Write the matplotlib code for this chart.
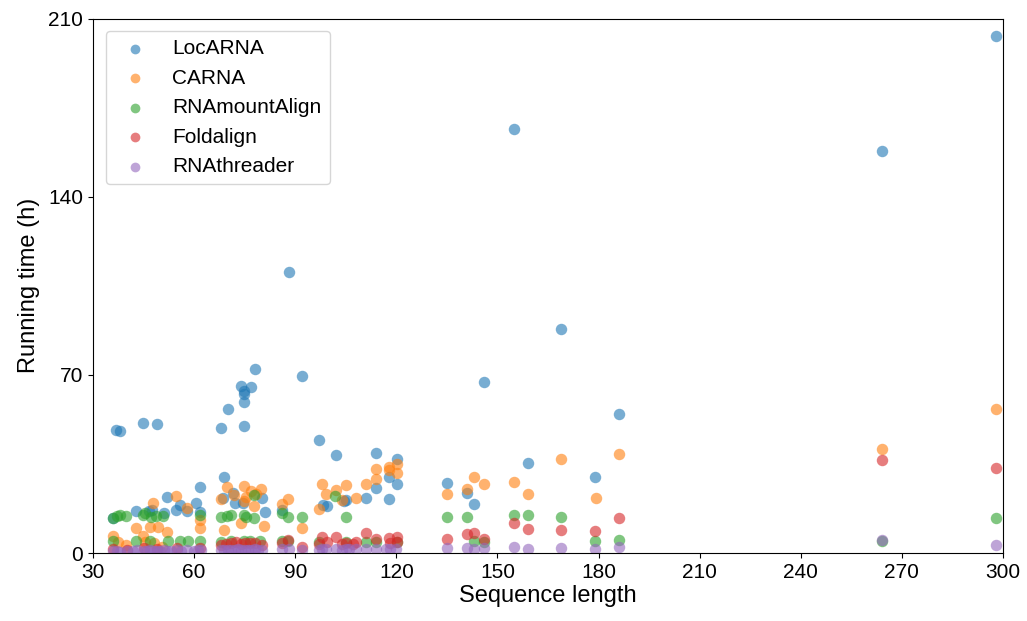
import matplotlib

matplotlib.use("Agg")
import matplotlib.pyplot as plt

plt.rcParams["font.family"] = ["Liberation Sans", "DejaVu Sans"]

# Running time (h) vs sequence length, one list pair per tool
locarna_x = [35.9, 36.8, 38.0, 42.8, 44.8, 46.5, 47.5, 49.0, 51.0, 52.0, 54.6, 55.8,
             58.0, 60.6, 61.8, 61.8, 68.0, 68.6, 68.9, 70.0, 71.6, 72.0, 73.9, 74.5,
             74.8, 74.8, 74.8, 74.8, 77.0, 78.0, 80.0, 81.0, 86.0, 88.0, 92.0, 97.0,
             98.2, 99.4, 102.0, 104.5, 105.0, 111.0, 114.0, 114.0, 117.8, 117.8, 120.2,
             120.2, 135.0, 141.0, 143.0, 146.0, 155.0, 159.0, 169.0, 179.0, 186.0,
             264.0, 298.0]
locarna_y = [13.8, 48.4, 48.0, 16.5, 51.0, 16.5, 17.0, 50.5, 15.7, 22.0, 17.0, 18.9,
             16.5, 19.7, 26.0, 16.0, 49.0, 21.6, 29.8, 56.6, 23.6, 19.5, 65.8, 19.7,
             63.5, 62.3, 59.4, 49.8, 65.3, 72.4, 21.6, 16.0, 17.0, 110.5, 69.6, 44.3,
             18.9, 18.3, 38.5, 20.5, 20.8, 21.6, 39.3, 25.5, 29.9, 21.2, 37.0,
             27.1, 27.5, 23.5, 19.3, 67.2, 166.7, 35.4, 88.0, 30.0, 54.5,
             158.0, 203.3]

carna_x = [35.9, 37.5, 39.8, 42.8, 44.8, 45.5, 47.0, 47.8, 48.0, 49.3, 50.5, 52.0,
           54.6, 57.9, 61.8, 61.8, 68.0, 68.9, 69.8, 71.9, 73.9, 74.8, 74.8, 75.5,
           76.9, 77.8, 78.5, 79.9, 80.7, 86.1, 87.9, 92.0, 97.1, 98.0, 99.1, 102.0,
           104.0, 105.0, 108.0, 111.0, 114.0, 114.0, 117.8, 117.8, 120.2, 120.2,
           135.0, 141.0, 143.0, 146.0, 155.0, 159.0, 169.0, 179.2, 186.0, 264.0, 298.0]
carna_y = [6.7, 4.5, 3.1, 9.8, 6.7, 4.5, 10.2, 19.7, 4.0, 10.2, 2.5, 8.3,
           22.4, 17.7, 13.0, 9.8, 21.2, 9.0, 26.0, 22.8, 11.8, 26.3, 20.4, 22.0,
           24.4, 18.5, 23.0, 25.2, 10.6, 19.3, 21.2, 9.8, 17.3, 27.1, 23.2, 24.8,
           20.8, 26.7, 21.6, 27.1, 29.1, 33.0, 33.8, 32.6, 35.0, 31.5,
           23.3, 25.2, 30.0, 27.0, 28.0, 23.2, 37.0, 21.6, 38.9, 40.9, 56.6]

amount_x = [35.9, 35.9, 37.0, 38.0, 39.8, 42.8, 44.8, 45.4, 47.0, 47.2, 48.7, 50.8,
            52.3, 55.8, 58.2, 61.8, 61.8, 68.0, 68.0, 69.8, 71.0, 71.0, 74.8, 75.5,
            74.8, 76.5, 77.8, 77.8, 79.5, 86.1, 86.1, 87.9, 87.9, 92.0, 97.1, 101.8,
            105.0, 105.0, 111.0, 114.0, 120.2, 135.0, 141.0, 143.0, 146.0, 155.0,
            159.0, 169.0, 179.0, 186.0, 264.0, 298.0]
amount_y = [13.8, 4.7, 14.5, 15.0, 14.5, 4.7, 15.0, 15.7, 4.7, 14.2, 14.5, 14.5,
            4.7, 4.7, 4.7, 14.9, 4.7, 14.2, 4.4, 14.5, 15.0, 4.7, 15.0, 14.2,
            4.7, 4.7, 22.8, 13.8, 4.7, 15.7, 4.7, 14.2, 4.7, 14.2, 4.3, 22.4,
            14.2, 4.3, 4.3, 4.3, 4.3, 14.2, 14.2, 4.7, 4.3, 15.0,
            15.0, 14.2, 4.7, 5.1, 4.7, 13.8]

foldalign_x = [36.0, 40.0, 45.0, 49.0, 55.0, 61.8, 68.0, 69.5, 71.0, 72.5, 74.0, 75.0,
               76.5, 78.0, 80.0, 86.1, 87.9, 92.0, 97.1, 98.0, 99.5, 102.0, 104.0, 105.0,
               107.0, 108.0, 111.0, 114.0, 117.8, 118.0, 120.2, 120.2, 135.0, 141.0,
               143.0, 146.0, 155.0, 159.0, 169.0, 179.0, 186.0, 264.0, 298.0]
foldalign_y = [1.5, 1.2, 2.0, 1.5, 1.8, 2.0, 3.0, 3.5, 3.9, 4.3, 3.5, 4.0,
               3.9, 3.9, 3.1, 4.0, 5.1, 2.4, 3.5, 6.3, 4.5, 6.3, 3.5, 4.0,
               3.5, 4.3, 7.9, 5.5, 5.9, 4.0, 6.3, 4.5, 5.5, 7.5,
               7.9, 5.5, 11.8, 9.4, 9.0, 8.6, 13.8, 36.6, 33.4]

threader_x = [36, 37, 38, 40, 42, 43, 45, 46, 47, 48, 49, 50, 51, 52, 53, 55, 56, 58,
              60, 61, 62, 68, 69, 70, 71, 72, 73, 74, 75, 76, 77, 78, 79, 80, 86, 88,
              92, 97, 98, 99, 102, 104, 105, 106, 108, 111, 114, 117, 118, 120, 135,
              141, 143, 146, 155, 159, 169, 179, 186, 264, 298]
threader_y = [0.6, 0.8, 0.5, 0.9, 0.7, 1.0, 0.8, 0.6, 1.1, 0.7, 0.9, 0.8, 1.0, 0.7,
              0.9, 1.0, 0.8, 1.1, 0.9, 1.0, 1.2, 1.0, 1.3, 1.1, 1.2, 1.0, 1.4, 1.2,
              1.3, 1.1, 1.2, 1.4, 1.0, 1.3, 1.5, 1.4, 1.3, 1.2, 1.5, 1.4, 1.6, 1.3,
              1.5, 1.4, 1.7, 1.5, 1.6, 1.4, 1.7, 1.6, 2.0, 2.0, 1.6, 2.0, 2.4, 1.6,
              2.0, 1.6, 2.4, 5.0, 3.1]

series = [
    ("LocARNA", locarna_x, locarna_y, "tab:blue"),
    ("CARNA", carna_x, carna_y, "tab:orange"),
    ("RNAmountAlign", amount_x, amount_y, "tab:green"),
    ("Foldalign", foldalign_x, foldalign_y, "tab:red"),
    ("RNAthreader", threader_x, threader_y, "tab:purple"),
]

fig, ax = plt.subplots(figsize=(10.27, 6.21), dpi=100)
fig.subplots_adjust(left=0.0906, right=0.9766, top=0.970, bottom=0.1095)

for name, xs, ys, color in series:
    ax.scatter(xs, ys, s=68, color=color, alpha=0.6, label=name, linewidths=0)

ax.set_xlim(30, 300)
ax.set_ylim(0, 210)
ax.set_xticks(range(30, 301, 30))
ax.set_yticks([0, 70, 140, 210])
ax.tick_params(labelsize=15)
ax.set_xlabel("Sequence length", fontsize=17, labelpad=2)
ax.set_ylabel("Running time (h)", fontsize=17, labelpad=6)
ax.legend(loc="upper left", fontsize=15, markerscale=0.85, handletextpad=0.8,
          borderaxespad=0.6)

fig.savefig("out.png", dpi=100)
